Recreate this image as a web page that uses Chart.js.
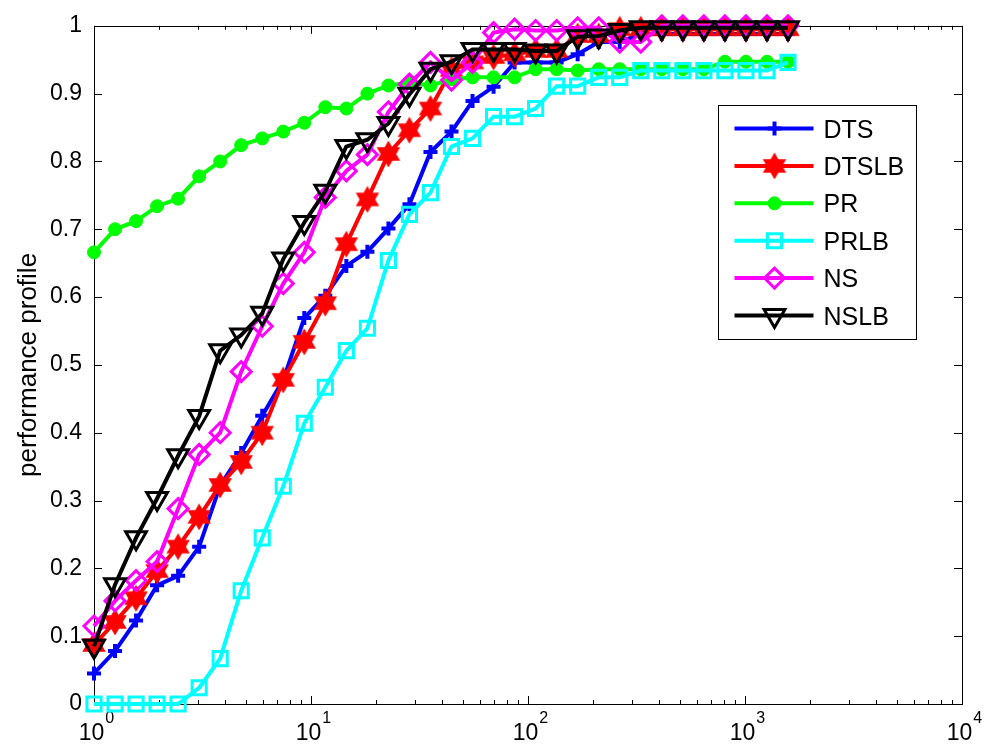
<!DOCTYPE html>
<html>
<head>
<meta charset="utf-8">
<script src="https://cdn.jsdelivr.net/npm/chart.js@4.4.0/dist/chart.umd.min.js"></script>
<style>
body { margin: 0; background: #fff; }
#wrap { width: 985px; height: 753px; }
</style>
</head>
<body>
<div id="wrap"><canvas id="profileChart" width="985" height="753"></canvas></div>
<script>
// performance ratio (tau) shared by every solver
const tau = [1, 1.25, 1.5625, 1.953, 2.441, 3.052, 3.815, 4.768, 5.960, 7.451,
    9.313, 11.64, 14.55, 18.19, 22.74, 28.42, 35.53, 44.41, 55.51, 69.39,
    86.74, 108.4, 135.5, 169.4, 211.8, 264.7, 330.9, 413.6, 517.0, 646.2,
    807.8, 1009.7, 1262.2, 1577.7];

const dts = [0.045, 0.078, 0.123, 0.175, 0.189, 0.232, 0.322, 0.370, 0.425, 0.478,
    0.569, 0.602, 0.646, 0.667, 0.701, 0.737, 0.814, 0.844, 0.889, 0.910,
    0.946, 0.946, 0.946, 0.958, 0.976, 0.976, 0.988, 0.988, 0.988, 0.988,
    0.988, 0.988, 0.988, 0.988];
const dtslb = [0.087, 0.121, 0.156, 0.196, 0.232, 0.276, 0.323, 0.357, 0.400, 0.478,
    0.534, 0.591, 0.678, 0.744, 0.811, 0.846, 0.878, 0.935, 0.946, 0.954,
    0.958, 0.963, 0.963, 0.985, 0.985, 0.995, 0.995, 0.995, 0.995, 0.995,
    0.995, 0.995, 0.995, 0.995];
const pr = [0.666, 0.700, 0.712, 0.734, 0.745, 0.778, 0.800, 0.824, 0.834, 0.844,
    0.857, 0.880, 0.878, 0.900, 0.912, 0.916, 0.912, 0.921, 0.924, 0.924,
    0.924, 0.936, 0.936, 0.934, 0.936, 0.936, 0.936, 0.936, 0.936, 0.936,
    0.947, 0.947, 0.947, 0.947];
const prlb = [0, 0, 0, 0, 0, 0.024, 0.067, 0.167, 0.245, 0.321,
    0.414, 0.467, 0.521, 0.554, 0.654, 0.722, 0.754, 0.822, 0.834, 0.866,
    0.866, 0.878, 0.911, 0.911, 0.924, 0.924, 0.934, 0.934, 0.934, 0.934,
    0.934, 0.934, 0.934, 0.946];
const ns = [0.115, 0.152, 0.182, 0.210, 0.288, 0.368, 0.400, 0.490, 0.557, 0.620,
    0.666, 0.747, 0.786, 0.810, 0.873, 0.914, 0.946, 0.920, 0.946, 0.990,
    0.995, 0.993, 0.993, 0.997, 0.997, 0.976, 0.976, 1, 1, 1,
    1, 1, 1, 1];
const nslb = [0.085, 0.176, 0.245, 0.303, 0.366, 0.424, 0.521, 0.544, 0.576, 0.656,
    0.710, 0.756, 0.822, 0.832, 0.856, 0.899, 0.936, 0.947, 0.965, 0.965,
    0.965, 0.963, 0.963, 0.984, 0.985, 0.993, 0.997, 0.997, 0.997, 0.997,
    0.997, 0.997, 0.997, 0.997];

const yTicks = [0, 0.1, 0.2, 0.3, 0.4, 0.5, 0.6, 0.7, 0.8, 0.9, 1];
const xDecades = [1, 10, 100, 1000, 10000];
const xExponents = ['0', '1', '2', '3', '4'];

const FONT = "'Liberation Sans', Arial, Helvetica, sans-serif";

// matlab style filled hexagram, Chart.js has no such marker
function hexagram(color, r) {
    const c = document.createElement('canvas');
    const s = Math.ceil(r * 2 + 4);
    c.width = s; c.height = s;
    const g = c.getContext('2d');
    g.fillStyle = color;
    g.strokeStyle = color;
    g.lineWidth = 1.5;
    g.beginPath();
    for (let i = 0; i < 12; i++) {
        const ang = -Math.PI / 2 + i * Math.PI / 6;
        const rr = i % 2 === 0 ? r : r / Math.sqrt(3);
        const px = s / 2 + rr * Math.cos(ang), py = s / 2 + rr * Math.sin(ang);
        if (i === 0) g.moveTo(px, py); else g.lineTo(px, py);
    }
    g.closePath();
    g.fill();
    g.stroke();
    return c;
}

function series(label, values, color, marker, order) {
    return Object.assign({
        label: label,
        data: tau.map((t, i) => ({ x: t, y: values[i] })),
        borderColor: color,
        borderWidth: 4,
        pointBorderColor: color,
        pointBackgroundColor: 'rgba(0,0,0,0)',
        pointBorderWidth: 3,
        tension: 0,
        clip: false,
        order: order
    }, marker);
}

const datasets = [
    series('DTS', dts, '#0000ff', { pointStyle: 'cross', pointRadius: 7, pointBorderWidth: 4 }, 5),
    series('DTSLB', dtslb, '#ff0000', { pointStyle: hexagram('#ff0000', 12), pointRadius: 12 }, 4),
    series('PR', pr, '#00ff00', { pointStyle: 'circle', pointRadius: 6.5, pointBorderWidth: 1, pointBackgroundColor: '#00ff00' }, 3),
    series('PRLB', prlb, '#00ffff', { pointStyle: 'rect', pointRadius: 10 }, 2),
    series('NS', ns, '#ff00ff', { pointStyle: 'rectRot', pointRadius: 10 }, 1),
    series('NSLB', nslb, '#000000', { pointStyle: 'triangle', pointRotation: 180, pointRadius: 12 }, 0)
];

// box and inward tick marks on all four sides
const frameTicks = {
    id: 'frameTicks',
    beforeDatasetsDraw(chart) {
        const { ctx, chartArea: a, scales: { x, y } } = chart;
        ctx.save();
        ctx.strokeStyle = '#000';
        ctx.lineWidth = 1;
        ctx.strokeRect(Math.round(a.left) + 0.5, Math.round(a.top) + 0.5, Math.round(a.width), Math.round(a.height));
        ctx.beginPath();
        yTicks.forEach(v => {
            const py = Math.round(y.getPixelForValue(v)) + 0.5;
            ctx.moveTo(a.left, py); ctx.lineTo(a.left + 8, py);
            ctx.moveTo(a.right, py); ctx.lineTo(a.right - 8, py);
        });
        xDecades.forEach((d, i) => {
            const px = Math.round(x.getPixelForValue(d)) + 0.5;
            ctx.moveTo(px, a.bottom); ctx.lineTo(px, a.bottom - 8);
            ctx.moveTo(px, a.top); ctx.lineTo(px, a.top + 8);
            if (i === xDecades.length - 1) return;
            for (let m = 2; m <= 9; m++) {
                const pm = Math.round(x.getPixelForValue(d * m)) + 0.5;
                ctx.moveTo(pm, a.bottom); ctx.lineTo(pm, a.bottom - 4);
                ctx.moveTo(pm, a.top); ctx.lineTo(pm, a.top + 4);
            }
        });
        ctx.stroke();

        // decade labels 10^n with raised exponent
        ctx.fillStyle = '#000';
        ctx.textAlign = 'left';
        ctx.textBaseline = 'alphabetic';
        xDecades.forEach((d, i) => {
            const px = x.getPixelForValue(d);
            ctx.font = '23px ' + FONT;
            const wb = ctx.measureText('10').width;
            ctx.font = '16px ' + FONT;
            const we = ctx.measureText(xExponents[i]).width;
            const left = px - (wb + we) / 2 + 2;
            ctx.font = '23px ' + FONT;
            ctx.fillText('10', left, a.bottom + 36);
            ctx.font = '16px ' + FONT;
            ctx.fillText(xExponents[i], left + wb + 1, a.bottom + 19);
        });
        ctx.restore();
    }
};

// legend box with line + marker samples, like matlab
const lineLegend = {
    id: 'lineLegend',
    afterDatasetsDraw(chart) {
        const { ctx, chartArea: a } = chart;
        const boxW = 198, boxH = 234;
        const bx = Math.round(a.right - 46 - boxW) + 0.5;
        const by = Math.round(a.top + 79) + 0.5;
        ctx.save();
        ctx.fillStyle = '#fff';
        ctx.fillRect(bx, by, boxW, boxH);
        ctx.strokeStyle = '#000';
        ctx.lineWidth = 1;
        ctx.strokeRect(bx, by, boxW, boxH);
        ctx.font = '25px ' + FONT;
        ctx.textBaseline = 'alphabetic';
        ctx.textAlign = 'left';
        chart.data.datasets.forEach((ds, i) => {
            const cy = by + 23 + i * 37.4;
            ctx.strokeStyle = ds.borderColor;
            ctx.lineWidth = 4;
            ctx.beginPath();
            ctx.moveTo(bx + 16, cy);
            ctx.lineTo(bx + 95, cy);
            ctx.stroke();
            ctx.fillStyle = ds.pointBackgroundColor;
            ctx.lineWidth = ds.pointBorderWidth;
            Chart.helpers.drawPoint(ctx, {
                pointStyle: ds.pointStyle,
                rotation: ds.pointRotation || 0,
                radius: ds.pointRadius,
                borderWidth: ds.pointBorderWidth
            }, bx + 56, cy);
            ctx.fillStyle = '#000';
            ctx.fillText(ds.label, bx + 105, cy + 9);
        });
        ctx.restore();
    }
};

const ctx = document.getElementById('profileChart').getContext('2d');
const profileChart = new Chart(ctx, {
    type: 'line',
    data: { datasets: datasets },
    options: {
        responsive: false,
        devicePixelRatio: 1,
        animation: false,
        events: [],
        layout: { padding: { top: 20, right: 23, left: 0, bottom: 0 } },
        plugins: {
            legend: { display: false },
            tooltip: { enabled: false }
        },
        scales: {
            x: {
                type: 'logarithmic',
                position: 'bottom',
                min: 1,
                max: 10000,
                grid: { display: false, drawTicks: false },
                border: { display: false },
                afterBuildTicks: s => { s.ticks = xDecades.map(v => ({ value: v })); },
                afterFit: s => { s.height = 49; },
                ticks: { display: false }
            },
            y: {
                min: 0,
                max: 1,
                grid: { display: false, drawTicks: false },
                border: { display: false },
                afterBuildTicks: s => { s.ticks = yTicks.map(v => ({ value: v })); },
                afterFit: s => { s.width = 94; },
                ticks: {
                    padding: 12,
                    color: '#000',
                    font: { family: FONT, size: 23 },
                    callback: v => String(Math.round(v * 10) / 10)
                },
                title: {
                    display: true,
                    text: 'performance profile',
                    color: '#000',
                    font: { family: FONT, size: 26 },
                    padding: { top: 13, bottom: 0 }
                }
            }
        }
    },
    plugins: [frameTicks, lineLegend]
});
</script>
</body>
</html>
